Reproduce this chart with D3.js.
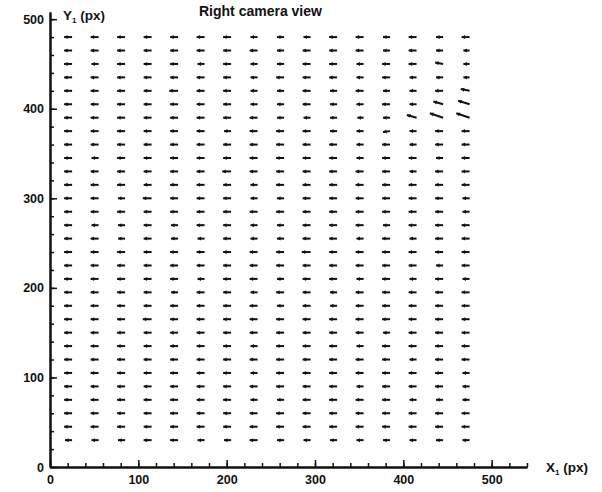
<!DOCTYPE html>
<html>
<head>
<meta charset="utf-8">
<script src="https://cdn.jsdelivr.net/npm/d3@7"></script>
<style>
  body { margin: 0; background: #fff; }
  text { font-family: "Liberation Sans", Arial, sans-serif; font-weight: bold; fill: #111; }
</style>
</head>
<body>
<svg id="chart" width="602" height="492"></svg>
<script>
// grid positions (px in camera image)
var xCols = [25, 55, 85, 115, 145, 175, 205, 235, 265, 295, 325, 355, 385, 415, 445, 475];
var yRows = [480, 465, 450, 435, 420, 405, 390, 375, 360, 345, 330, 315, 300, 285, 270, 255,
             240, 225, 210, 195, 180, 165, 150, 135, 120, 105, 90, 75, 60, 45, 30];

// horizontal displacement, one row per yRows entry (top to bottom)
var uRows = [
  [-9,-9,-9,-9,-9,-9,-9,-8,-8,-8,-9,-9,-8,-9,-8,-9],
  [-9,-9,-9,-9,-9,-9,-9,-9,-8,-9,-9,-9,-8,-9,-8,-7],
  [-9,-8,-9,-9,-9,-8,-9,-8,-8,-9,-9,-8,-9,-9,-9,-7],
  [-9,-9,-9,-9,-9,-9,-9,-8,-9,-9,-9,-8,-9,-8,-8,-7],
  [-9,-9,-9,-9,-10,-9,-9,-8,-8,-9,-8,-9,-8,-8,-9,-10],
  [-9,-9,-9,-9,-9,-9,-9,-8,-8,-9,-8,-8,-9,-8,-11,-13],
  [-9,-9,-9,-9,-9,-9,-9,-9,-8,-8,-8,-7,-8,-11,-15,-15],
  [-9,-9,-9,-9,-9,-9,-8,-9,-9,-9,-8,-8,-8,-8,-9,-9],
  [-9,-9,-9,-9,-9,-9,-9,-9,-9,-9,-9,-8,-9,-8,-9,-9],
  [-9,-8,-9,-9,-9,-9,-9,-9,-9,-9,-9,-8,-9,-9,-8,-9],
  [-9,-9,-9,-9,-9,-9,-10,-9,-9,-9,-9,-9,-9,-8,-9,-9],
  [-9,-9,-9,-9,-9,-9,-9,-8,-9,-9,-9,-9,-9,-9,-9,-9],
  [-9,-9,-8,-10,-9,-9,-9,-8,-8,-9,-9,-9,-9,-9,-9,-8],
  [-9,-9,-9,-9,-9,-9,-9,-9,-9,-9,-9,-9,-9,-9,-9,-8],
  [-9,-8,-8,-9,-8,-9,-9,-8,-8,-9,-9,-9,-8,-9,-9,-9],
  [-9,-9,-8,-9,-8,-8,-9,-8,-8,-9,-9,-8,-9,-8,-9,-9],
  [-9,-9,-9,-9,-9,-9,-9,-9,-9,-10,-9,-9,-9,-9,-9,-9],
  [-9,-9,-9,-9,-9,-9,-9,-9,-9,-9,-9,-9,-9,-9,-8,-9],
  [-9,-9,-9,-9,-9,-8,-9,-9,-8,-9,-9,-8,-9,-8,-9,-8],
  [-9,-9,-9,-9,-8,-9,-9,-8,-9,-9,-8,-9,-9,-9,-9,-9],
  [-9,-9,-9,-9,-9,-9,-9,-9,-8,-9,-8,-9,-9,-9,-9,-9],
  [-9,-9,-9,-10,-9,-9,-9,-9,-9,-9,-9,-9,-9,-9,-9,-9],
  [-9,-9,-9,-9,-9,-9,-9,-9,-9,-9,-9,-9,-8,-9,-9,-9],
  [-9,-9,-9,-9,-9,-9,-9,-8,-9,-9,-9,-8,-9,-9,-9,-9],
  [-9,-9,-9,-9,-9,-9,-9,-9,-9,-9,-9,-9,-9,-8,-9,-9],
  [-9,-9,-9,-9,-9,-9,-9,-8,-9,-9,-9,-9,-9,-9,-9,-8],
  [-9,-9,-9,-9,-9,-9,-9,-9,-9,-9,-9,-8,-9,-9,-9,-8],
  [-9,-9,-9,-9,-9,-9,-9,-8,-8,-9,-9,-9,-9,-8,-8,-8],
  [-9,-9,-9,-9,-9,-9,-9,-9,-9,-9,-9,-9,-9,-9,-9,-9],
  [-9,-9,-9,-9,-9,-9,-9,-9,-9,-9,-9,-9,-9,-9,-9,-9],
  [-8,-8,-8,-9,-9,-8,-8,-9,-8,-8,-8,-8,-8,-8,-8,-8]
];

// the few vectors with a vertical component [x, y, v]
var vNonZero = [
  [445, 450, 1.5],
  [475, 420, 2],
  [445, 405, 3],
  [475, 405, 4],
  [415, 390, 3],
  [445, 390, 5],
  [475, 390, 5],
  [385, 375, -1]
];

var xMajor = [0, 100, 200, 300, 400, 500];
var yMajor = [0, 100, 200, 300, 400, 500];

var svg = d3.select("#chart");

var x = d3.scaleLinear().domain([0, 540]).range([50, 527]);
var y = d3.scaleLinear().domain([0, 508]).range([467, 12]);

// build vectors
var vecs = [];
yRows.forEach(function(yv, i) {
    xCols.forEach(function(xv, j) {
        var v = 0;
        vNonZero.forEach(function(e){ if (e[0] == xv && e[1] == yv) v = e[2]; });
        vecs.push({x: xv, y: yv, u: uRows[i][j], v: v});
    });
});

// axes (ticks point inward)
svg.append("g").attr("transform", "translate(50,0)")
    .call(d3.axisLeft(y).tickValues(yMajor).tickSize(-7).tickSizeOuter(0).tickPadding(6));
svg.append("g").attr("transform", "translate(50,0)")
    .call(d3.axisLeft(y).tickValues(d3.range(0, 501, 20)).tickSize(-4).tickSizeOuter(0).tickFormat(""));
svg.append("g").attr("transform", "translate(0,467)")
    .call(d3.axisBottom(x).tickValues(xMajor).tickSize(-7).tickSizeOuter(0).tickPadding(8));
svg.append("g").attr("transform", "translate(0,467)")
    .call(d3.axisBottom(x).tickValues(d3.range(0, 541, 20)).tickSize(-4).tickSizeOuter(0).tickFormat(""));

svg.selectAll(".domain").attr("stroke", "#111").attr("stroke-width", 2);
svg.selectAll(".tick line").attr("stroke", "#111").attr("stroke-width", 1.5);
svg.selectAll(".tick text").style("font-size", "12.5px").style("font-family", "Liberation Sans, Arial").style("font-weight", "bold").attr("fill", "#111");

// arrows
var arrows = svg.append("g").selectAll("g").data(vecs).enter().append("g");
arrows.append("line")
    .attr("x1", function(d){ return x(d.x); })
    .attr("y1", function(d){ return y(d.y); })
    .attr("x2", function(d){ return x(d.x + d.u); })
    .attr("y2", function(d){ return y(d.y + d.v); })
    .attr("stroke", "#111").attr("stroke-width", 2);
arrows.append("path")
    .attr("d", function(d){
        var x0 = x(d.x), y0 = y(d.y), x1 = x(d.x + d.u), y1 = y(d.y + d.v);
        var a = Math.atan2(y1 - y0, x1 - x0), L = 3.5, W = 2;
        var bx = x1 - L * Math.cos(a), by = y1 - L * Math.sin(a);
        return "M" + x1 + "," + y1 +
            "L" + (bx - W * Math.sin(a)) + "," + (by + W * Math.cos(a)) +
            "L" + (bx + W * Math.sin(a)) + "," + (by - W * Math.cos(a)) + "Z";
    })
    .attr("fill", "#111");

// labels
svg.append("text").attr("x", 199).attr("y", 16).style("font-size", "14px").text("Right camera view");
var yl = svg.append("text").attr("x", 63).attr("y", 20).style("font-size", "13.5px");
yl.append("tspan").text("Y");
yl.append("tspan").attr("dy", 3).style("font-size", "8px").text("1");
yl.append("tspan").attr("dy", -3).text(" (px)");
var xl = svg.append("text").attr("x", 546).attr("y", 472).style("font-size", "13.5px");
xl.append("tspan").text("X");
xl.append("tspan").attr("dy", 3).style("font-size", "8px").text("1");
xl.append("tspan").attr("dy", -3).text(" (px)");
</script>
</body>
</html>
